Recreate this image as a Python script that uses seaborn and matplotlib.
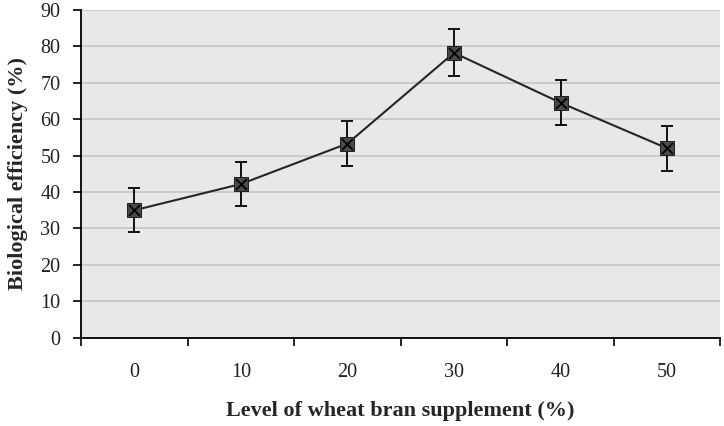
import numpy as np
import pandas as pd
import matplotlib
matplotlib.use("Agg")
import matplotlib.pyplot as plt
import seaborn as sns
from matplotlib.ticker import FixedLocator

levels = ["0", "10", "20", "30", "40", "50"]
efficiency = [35.0, 42.2, 53.3, 78.2, 64.5, 52.0]
err = [6.0, 6.0, 6.2, 6.5, 6.2, 6.2]

sns.set_theme(style="white")
plt.rcParams['font.family'] = ['Liberation Serif', 'DejaVu Serif']

df = pd.DataFrame({"pos": np.arange(len(levels)), "eff": efficiency, "err": err})

fig = plt.figure(figsize=(7.24, 4.26), dpi=100)
ax = fig.add_axes([0.112, 0.207, 0.883, 0.770])
ax.set_facecolor("#e8e8e8")

ax.errorbar(df["pos"], df["eff"], yerr=df["err"], fmt="none", ecolor="black",
            elinewidth=1.3, capsize=4, capthick=1.3, zorder=3)
sns.lineplot(data=df, x="pos", y="eff", color="#262626", linewidth=1.5,
             marker="s", markersize=9.5, markerfacecolor="#4a4a4a",
             markeredgecolor="#222222", ax=ax, zorder=4)
ax.scatter(df["pos"], df["eff"], marker="x", s=60, color="black", linewidths=1.3, zorder=5)

ax.set_xlim(-0.5, len(levels) - 0.5)
ax.set_ylim(0, 90)
ax.set_yticks(range(0, 91, 10))
ax.yaxis.grid(True, color="#c4c4c4", linewidth=1.2)
ax.set_axisbelow(True)

ax.set_xticks(df["pos"])
ax.set_xticklabels(levels)
ax.xaxis.set_minor_locator(FixedLocator(np.arange(-0.5, len(levels), 1.0)))
ax.tick_params(axis="x", which="major", bottom=True, length=0, pad=18,
               labelsize=14.5, labelcolor="#222222")
ax.tick_params(axis="x", which="minor", bottom=True, length=6, width=1.2,
               direction="out", color="black")
ax.tick_params(axis="y", left=True, length=6, width=1.2, direction="out", color="black",
               labelsize=14.5, labelcolor="#222222", pad=9)

for s in ["top", "right"]:
    ax.spines[s].set_visible(False)
for s in ["left", "bottom"]:
    ax.spines[s].set_color("black")
    ax.spines[s].set_linewidth(1.3)

ax.set_xlabel("Level of wheat bran supplement (%)", fontsize=16, fontweight="bold", labelpad=14)
ax.set_ylabel("Biological efficiency (%)", fontsize=16, fontweight="bold", labelpad=9)

fig.savefig("out.png", dpi=100)
